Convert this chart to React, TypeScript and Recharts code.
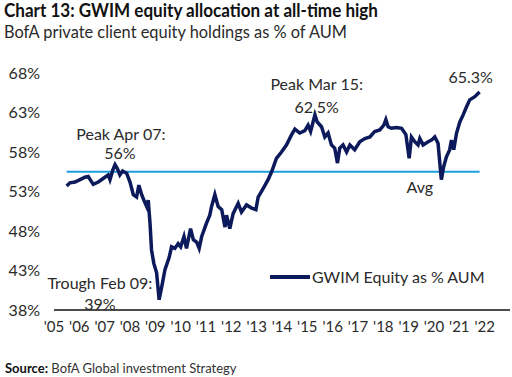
import React from "react";
import {
  LineChart,
  Line,
  XAxis,
  YAxis,
  ReferenceLine,
  ReferenceDot,
} from "recharts";

// year fraction -> % of AUM
const years = [
  2005.5, 2005.63, 2005.83, 2006.03, 2006.22, 2006.35, 2006.55, 2006.75, 2007.01, 2007.14,
  2007.21, 2007.32, 2007.41, 2007.5, 2007.6, 2007.71, 2007.87, 2008.0, 2008.13, 2008.26,
  2008.35, 2008.46, 2008.55, 2008.66, 2008.72, 2008.79, 2008.85, 2008.94, 2009.05, 2009.15,
  2009.25, 2009.38, 2009.55, 2009.64, 2009.77, 2009.9, 2010.0, 2010.13, 2010.23, 2010.39,
  2010.5, 2010.63, 2010.73, 2010.83, 2011.02, 2011.15, 2011.22, 2011.35, 2011.48, 2011.62,
  2011.75, 2011.81, 2011.94, 2012.07, 2012.27, 2012.4, 2012.6, 2012.8, 2012.97, 2013.06,
  2013.26, 2013.45, 2013.59, 2013.78, 2013.98, 2014.18, 2014.38, 2014.51, 2014.7, 2014.9,
  2015.03, 2015.13, 2015.3, 2015.39, 2015.56, 2015.69, 2015.82, 2015.95, 2016.08, 2016.19,
  2016.28, 2016.41, 2016.55, 2016.68, 2016.87, 2017.07, 2017.27, 2017.47, 2017.66, 2017.86,
  2018.02, 2018.1, 2018.19, 2018.32, 2018.52, 2018.72, 2018.89, 2019.02, 2019.11, 2019.24,
  2019.37, 2019.44, 2019.57, 2019.77, 2019.9, 2020.03, 2020.16, 2020.23, 2020.29, 2020.38,
  2020.49, 2020.62, 2020.69, 2020.78, 2020.89, 2021.02, 2021.15, 2021.28, 2021.41, 2021.61,
  2021.8,
];

const equityPct = [
  53.7, 54.1, 54.2, 54.5, 54.8, 54.9, 53.9, 54.2, 54.8, 55.1,
  54.5, 55.7, 56.4, 55.9, 55.1, 55.6, 55.3, 54.2, 52.6, 52.3,
  53.8, 52.6, 51.9, 51.1, 51.9, 49.0, 45.6, 43.9, 42.7, 39.3,
  40.9, 43.1, 44.7, 46.0, 45.8, 46.4, 46.0, 47.3, 45.8, 48.3,
  46.9, 46.6, 45.8, 47.3, 49.0, 50.0, 51.1, 52.6, 51.1, 50.7,
  48.5, 50.0, 48.3, 50.2, 51.5, 50.4, 51.3, 50.9, 50.7, 52.3,
  53.4, 54.5, 55.5, 57.2, 58.0, 58.9, 60.2, 60.9, 60.4, 60.7,
  61.4, 60.6, 62.7, 61.8, 61.2, 59.9, 60.4, 58.9, 58.5, 56.6,
  58.5, 58.9, 58.0, 58.9, 58.3, 59.3, 59.7, 59.9, 60.6, 60.8,
  61.4, 62.1, 61.2, 61.0, 61.1, 61.0, 60.2, 57.2, 59.9, 59.3,
  58.9, 59.7, 58.9, 59.3, 59.5, 59.9, 59.1, 56.6, 54.5, 56.1,
  57.4, 58.3, 59.5, 58.3, 60.4, 61.8, 62.7, 63.7, 64.6, 65.0,
  65.6,
];

const yearTicks = [
  2005, 2006, 2007, 2008, 2009, 2010, 2011, 2012, 2013, 2014, 2015, 2016, 2017, 2018, 2019,
  2020, 2021, 2022,
];
const pctTicks = [38, 43, 48, 53, 58, 63, 68];
const avgPct = 55.5;

const notes = [
  { x: 2007.64, y: 60.4, text: "Peak Apr 07:" },
  { x: 2007.6, y: 57.9, text: "56%" },
  { x: 2006.81, y: 41.5, text: "Trough Feb 09:" },
  { x: 2006.81, y: 38.8, text: "39%" },
  { x: 2015.37, y: 66.7, text: "Peak Mar 15:" },
  { x: 2015.37, y: 63.8, text: "62.5%" },
  { x: 2021.45, y: 67.5, text: "65.3%" },
  { x: 2019.44, y: 53.6, text: "Avg" },
];

const data = years.map((year, i) => ({ year, value: equityPct[i] }));

const NAVY = "#0c1a5b";
const FONT = "Lato, 'Liberation Sans', sans-serif";
const TXT = "#2a2a2a";

export default function App() {
  return (
    <div style={{ position: "absolute", left: 0, top: 0, width: 512, height: 377, background: "#fff", overflow: "hidden" }}>
      <svg width={512} height={44} style={{ position: "absolute", left: 0, top: 0 }}>
        <text
          x={4}
          y={17}
          fontFamily={FONT}
          fontWeight={700}
          fontSize={18}
          fill="#111"
          textLength={374}
          lengthAdjust="spacingAndGlyphs"
        >
          Chart 13: GWIM equity allocation at all-time high
        </text>
        <text x={4} y={37.5} fontFamily={FONT} fontSize={16.5} fill={TXT} textLength={343} lengthAdjust="spacingAndGlyphs">
          BofA private client equity holdings as % of AUM
        </text>
      </svg>

      <div style={{ position: "absolute", left: 0, top: 0 }}>
        <LineChart width={512} height={377} data={data} margin={{ top: 73, right: 2, bottom: 37, left: 0 }}>
          <XAxis
            dataKey="year"
            type="number"
            domain={[2005, 2023]}
            ticks={yearTicks}
            tickFormatter={(v: number) => "'" + String(v).slice(2)}
            axisLine={{ stroke: "#111", strokeWidth: 1.5 }}
            tickLine={false}
            tickMargin={5}
            height={30}
            tick={{ fill: TXT, fontSize: 15, fontFamily: FONT }}
            interval={0}
          />
          <YAxis
            type="number"
            domain={[38, 68]}
            ticks={pctTicks}
            tickFormatter={(v: number) => v + "%"}
            axisLine={false}
            tickLine={false}
            tickSize={6}
            tickMargin={8}
            width={54}
            tick={{ fill: TXT, fontSize: 16, fontFamily: FONT }}
          />
          <ReferenceLine
            segment={[
              { x: years[0], y: avgPct },
              { x: years[years.length - 1], y: avgPct },
            ]}
            stroke="#1a9fe0"
            strokeWidth={2}
          />
          <Line
            type="linear"
            dataKey="value"
            stroke={NAVY}
            strokeWidth={3.5}
            dot={false}
            isAnimationActive={false}
          />
          {notes.map((n, i) => (
            <ReferenceDot
              key={i}
              x={n.x}
              y={n.y}
              r={0}
              fill="none"
              stroke="none"
              label={(p: any) => {
                const vb = p.viewBox || {};
                const cx = (vb.x ?? 0) + (vb.width ?? 0) / 2;
                const cy = (vb.y ?? 0) + (vb.height ?? 0) / 2;
                return (
                  <text
                    x={cx}
                    y={cy}
                    textAnchor="middle"
                    dominantBaseline="central"
                    fill={TXT}
                    fontSize={16}
                    fontFamily={FONT}
                  >
                    {n.text}
                  </text>
                );
              }}
            />
          ))}
        </LineChart>
      </div>

      {/* legend */}
      <div
        style={{
          position: "absolute",
          left: 270,
          top: 267,
          display: "flex",
          alignItems: "center",
          fontFamily: FONT,
          fontSize: 16,
          lineHeight: "20px",
          color: TXT,
          whiteSpace: "nowrap",
        }}
      >
        <span style={{ display: "inline-block", width: 40, height: 3.5, background: NAVY, marginRight: 2 }} />
        GWIM Equity as % AUM
      </div>

      <div
        style={{
          position: "absolute",
          left: 5,
          top: 360,
          fontFamily: FONT,
          fontSize: 13,
          lineHeight: "16px",
          color: "#333",
          whiteSpace: "nowrap",
        }}
      >
        <span style={{ fontWeight: 700, color: "#111" }}>Source:</span>
        {"  "}BofA Global investment Strategy
      </div>
    </div>
  );
}
